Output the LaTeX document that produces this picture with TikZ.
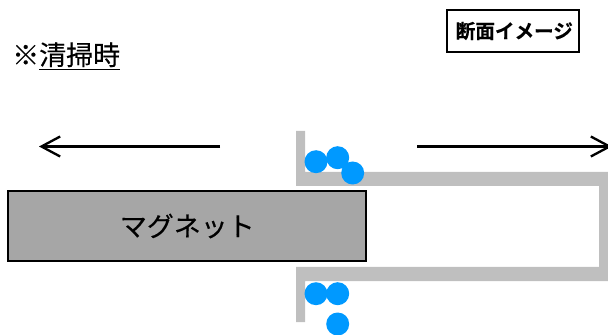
\documentclass[tikz,border=0pt]{standalone}
\usepackage{fontspec}
\setmainfont[FakeBold=0.25,BoldFont={Noto Sans CJK JP Bold}]{Noto Sans CJK JP}
\usetikzlibrary{arrows.meta}
\definecolor{wallgray}{HTML}{BFBFBF}
\definecolor{magnetgray}{HTML}{A6A6A6}
\definecolor{ballblue}{HTML}{0099FF}
\tikzset{
  ball/.style={circle,fill=ballblue,draw=none,minimum size=17.25pt,inner sep=0pt},
  movearrow/.style={line width=1.75pt,-{Straight Barb[length=14pt,width=15pt,line width=1.75pt]}},
  wall/.style={fill=wallgray,draw=none},
  magnet/.style={draw=black,line width=1.7pt,fill=magnetgray,minimum width=268.5pt,minimum height=52pt,inner sep=0pt,font=\fontsize{20.2pt}{24pt}\selectfont},
  tagbox/.style={draw=black,line width=1.3pt,fill=white,minimum width=98.5pt,minimum height=31pt,inner sep=0pt,font=\fontsize{14.7pt}{18pt}\selectfont\bfseries},
  heading/.style={inner sep=0pt,anchor=west,font=\fontsize{20.2pt}{24pt}\selectfont}
}
\begin{document}
\begin{tikzpicture}[x=0.75pt,y=-0.75pt]
\useasboundingbox (0,0) rectangle (608,335);
\fill[wall] (296,131) -- (305,131) -- (305,172) -- (608,172) -- (608,281) -- (305,281) -- (305,322) -- (296,322) -- (296,267) -- (599,267) -- (599,186) -- (296,186) -- cycle;
\node[ball] (b1) at (316,161.7) {};
\node[ball] (b2) at (337.7,157.7) {};
\node[ball] (b3) at (352.7,173) {};
\node[ball] (b4) at (316,293.7) {};
\node[ball] (b5) at (337.7,293.7) {};
\node[ball] (b6) at (337.7,324) {};
\node[magnet] (mag) at (187.3,226) {マグネット};
\node[tagbox] (tag) at (513,31) {\hspace*{2pt}断面イメージ};
\node[heading] (title) at (12,56) {※\underline{清掃時}};
\coordinate (ls) at (220,146.5);
\coordinate (le) at (39,146.5);
\coordinate (rs) at (417,146.5);
\coordinate (re) at (612,146.5);
\draw[movearrow] (ls) -- (le);
\draw[movearrow] (rs) -- (re);
\end{tikzpicture}
\end{document}
